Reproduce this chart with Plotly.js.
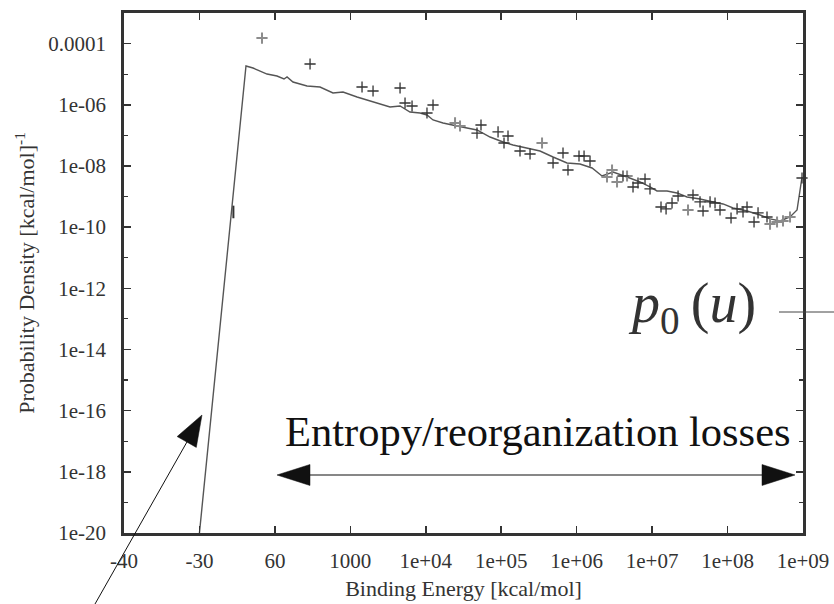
<!DOCTYPE html>
<html>
<head>
<meta charset="utf-8">
<script src="https://cdn.plot.ly/plotly-3.0.1.min.js"></script>
<style>
  html, body { margin: 0; padding: 0; background: #ffffff; }
  #chart { width: 834px; height: 604px; }
</style>
</head>
<body>
<div id="chart"></div>
<script>
// Binding-energy axis is piecewise: each labelled value sits one unit apart.
const xTickPos = [0, 1, 2, 3, 4, 5, 6, 7, 8, 9];
const xTickLabels = ['-40', '-30', '60', '1000', '1e+04', '1e+05', '1e+06', '1e+07', '1e+08', '1e+09'];

const yTickValues = [1e-20, 1e-18, 1e-16, 1e-14, 1e-12, 1e-10, 1e-8, 1e-6, 1e-4];
const yTickLabels = ['1e-20', '1e-18', '1e-16', '1e-14', '1e-12', '1e-10', '1e-08', '1e-06', '0.0001'];
const yMinorValues = [1e-19, 1e-17, 1e-15, 1e-13, 1e-11, 1e-9, 1e-7, 1e-5];

// Model density p0(u) (solid line)
const curvePos = [1.00, 1.577, 1.617, 1.710, 1.896, 2.028, 2.121, 2.161, 2.240, 2.426, 2.598, 2.770, 2.903,
  3.089, 3.261, 3.526, 3.659, 3.791, 3.924, 4.016, 4.096, 4.229, 4.414, 4.547, 4.679, 4.852, 5.024,
  5.156, 5.342, 5.514, 5.687, 5.872, 6.044, 6.204, 6.336, 6.482, 6.668, 6.840, 6.972, 7.065, 7.198,
  7.330, 7.463, 7.635, 7.808, 7.940, 8.073, 8.258, 8.431, 8.563, 8.696, 8.828, 8.921, 8.961, 8.987];
const curveDensity = [1e-20, 2.43e-6, 1.85e-5, 1.59e-5, 1.01e-5, 8.7e-6, 6.95e-6, 8.1e-6, 5.55e-6, 4.11e-6, 3.81e-6, 2.43e-6, 2.61e-6,
  1.79e-6, 1.33e-6, 8.45e-7, 9.12e-7, 5.81e-7, 5.38e-7, 4.63e-7, 3.18e-7, 2.54e-7, 2.02e-7, 1.74e-7, 1.50e-7, 8.83e-8, 6.07e-8,
  4.84e-8, 3.86e-8, 3.08e-8, 1.96e-8, 1.25e-8, 1.16e-8, 8.58e-9, 4.69e-9, 6.34e-9, 4.35e-9, 2.99e-9, 2.05e-9, 1.52e-9, 1.52e-9,
  1.31e-9, 9.66e-10, 8.32e-10, 6.64e-10, 5.71e-10, 4.22e-10, 3.37e-10, 2.49e-10, 1.85e-10, 1.59e-10, 2.14e-10, 3.63e-10, 2.05e-9, 4.35e-9];

// Sampled densities (black crosses)
const samplePos = [2.466, 3.155, 3.301, 3.659, 3.725, 3.818, 4.096, 4.016, 4.732, 4.679, 4.958, 5.090,
  5.037, 5.249, 5.382, 5.819, 5.687, 5.885, 6.031, 6.098, 6.177, 6.614, 6.747, 6.813, 6.906, 6.972,
  7.118, 7.185, 7.264, 7.344, 7.542, 7.675, 7.635, 7.768, 7.834, 7.900, 8.046, 8.126, 8.205, 8.258,
  8.351, 8.404, 8.523, 8.987];
const sampleDensity = [2.15e-5, 3.81e-6, 2.82e-6, 3.53e-6, 1.14e-6, 9.12e-7, 9.82e-7, 5.38e-7, 2.18e-7, 1.19e-7, 1.29e-7, 9.53e-8,
  5.62e-8, 3.08e-8, 2.46e-8, 2.65e-8, 1.25e-8, 7.38e-9, 2.11e-8, 2.11e-8, 1.45e-8, 4.69e-9, 2.05e-9, 2.77e-9, 3.74e-9, 1.77e-9,
  4.55e-10, 3.92e-10, 6.15e-10, 1.04e-9, 1.12e-9, 3.37e-10, 6.64e-10, 6.64e-10, 6.15e-10, 3.63e-10, 1.99e-10, 3.92e-10, 3.13e-10, 4.55e-10,
  1.47e-10, 2.90e-10, 2.14e-10, 4.04e-9];

// Lone sample sitting on the steep rise (small tick)
const risePos = [1.45];
const riseDensity = [3.13e-10];

// Second sample set (grey crosses)
const altPos = [1.829, 4.388, 4.454, 5.541, 6.402, 6.469, 6.535, 6.668, 7.476, 8.563, 8.656, 8.735, 8.828];
const altDensity = [1.52e-4, 2.54e-7, 2.02e-7, 5.62e-8, 4.35e-9, 7.38e-9, 2.99e-9, 4.69e-9, 3.63e-10, 1.26e-10, 1.47e-10, 1.59e-10, 2.14e-10];

// Plot frame in page pixels, used to place the overlaid notes
const W = 834, H = 604;
const frame = { l: 124, r: 803, t: 13, b: 533 };
const px = x => (x - frame.l) / (frame.r - frame.l);
const py = y => (frame.b - y) / (frame.b - frame.t);

function seg(x0, y0, x1, y1, color, width) {
  return { type: 'line', xref: 'paper', yref: 'paper',
    x0: px(x0), y0: py(y0), x1: px(x1), y1: py(y1),
    line: { color: color, width: width } };
}
function head(tipX, tipY, fromX, fromY, len, half, color) {
  const dx = tipX - fromX, dy = tipY - fromY, d = Math.hypot(dx, dy);
  const ux = dx / d, uy = dy / d;
  const bx = tipX - ux * len, by = tipY - uy * len;
  const nx = -uy, ny = ux;
  const pts = [[tipX, tipY], [bx + nx * half, by + ny * half], [bx - nx * half, by - ny * half]];
  const path = 'M' + pts.map(p => px(p[0]).toFixed(5) + ',' + py(p[1]).toFixed(5)).join(' L') + ' Z';
  return { type: 'path', xref: 'paper', yref: 'paper', path: path,
    fillcolor: color, line: { color: color, width: 0.5 } };
}

const ink = '#111111';
const shapes = [
  seg(95, 604, 196, 426, ink, 1),
  head(202, 415, 95, 604, 31, 11, ink),
  seg(300, 475, 772, 475, ink, 1.2),
  head(277, 475, 795, 475, 33, 10.5, ink),
  head(795, 475, 277, 475, 33, 10.5, ink),
  seg(779, 312, 834, 312, '#444444', 1)
];

const serif = '"Liberation Serif", "Times New Roman", serif';
const axisInk = '#333333';

const traces = [
  { x: curvePos, y: curveDensity, type: 'scatter', mode: 'lines',
    line: { color: '#555555', width: 1.4 }, hoverinfo: 'skip', showlegend: false, cliponaxis: true },
  { x: altPos, y: altDensity, type: 'scatter', mode: 'markers',
    marker: { symbol: 'cross-thin', size: 8, line: { color: '#8c8c8c', width: 2 } },
    showlegend: false, cliponaxis: false },
  { x: samplePos, y: sampleDensity, type: 'scatter', mode: 'markers',
    marker: { symbol: 'cross-thin', size: 8, line: { color: '#333333', width: 1.3 } },
    showlegend: false, cliponaxis: false },
  { x: risePos, y: riseDensity, type: 'scatter', mode: 'markers',
    marker: { symbol: 'line-ns', size: 9, line: { color: '#333333', width: 2 } },
    showlegend: false, cliponaxis: false }
];

const layout = {
  width: W, height: H,
  margin: { l: frame.l, r: W - frame.r, t: frame.t, b: H - frame.b, pad: 0 },
  paper_bgcolor: '#ffffff', plot_bgcolor: '#ffffff',
  showlegend: false,
  font: { family: serif, color: axisInk, size: 21 },
  xaxis: {
    range: [0, 9], tickmode: 'array', tickvals: xTickPos, ticktext: xTickLabels,
    ticks: 'inside', ticklen: 7, tickwidth: 1.5, tickcolor: axisInk,
    showline: true, linewidth: 2.8, linecolor: axisInk, mirror: 'ticks',
    showgrid: false, zeroline: false, ticklabelstandoff: 7,
    tickfont: { family: serif, size: 21, color: axisInk },
    title: { text: 'Binding Energy [kcal/mol]', font: { family: serif, size: 22, color: axisInk }, standoff: 9 }
  },
  yaxis: {
    type: 'log', range: [-20, -3], tickmode: 'array', tickvals: yTickValues, ticktext: yTickLabels,
    ticks: 'inside', ticklen: 7, tickwidth: 1.5, tickcolor: axisInk,
    minor: { tickmode: 'array', tickvals: yMinorValues, ticks: 'inside', ticklen: 4, tickwidth: 1.2, tickcolor: axisInk, showgrid: false },
    showline: true, linewidth: 2.8, linecolor: axisInk, mirror: 'ticks',
    showgrid: false, zeroline: false, ticklabelstandoff: 11,
    tickfont: { family: serif, size: 21, color: axisInk },
    title: { text: 'Probability Density [kcal/mol]<sup>-1</sup>', font: { family: serif, size: 22, color: axisInk }, standoff: 8 }
  },
  shapes: shapes,
  annotations: [
    { xref: 'paper', yref: 'paper', x: px(538), y: py(431), xanchor: 'center', yanchor: 'middle',
      text: 'Entropy/reorganization losses', showarrow: false,
      font: { family: serif, size: 42.5, color: ink } },
    { xref: 'paper', yref: 'paper', x: px(692), y: py(307), xanchor: 'center', yanchor: 'middle',
      text: '<i>p</i><sub>0</sub>\u2009(<i>u</i>)', showarrow: false,
      font: { family: serif, size: 56, color: '#333333' } }
  ]
};

Plotly.newPlot('chart', traces, layout, { staticPlot: true, displayModeBar: false });
</script>
</body>
</html>
